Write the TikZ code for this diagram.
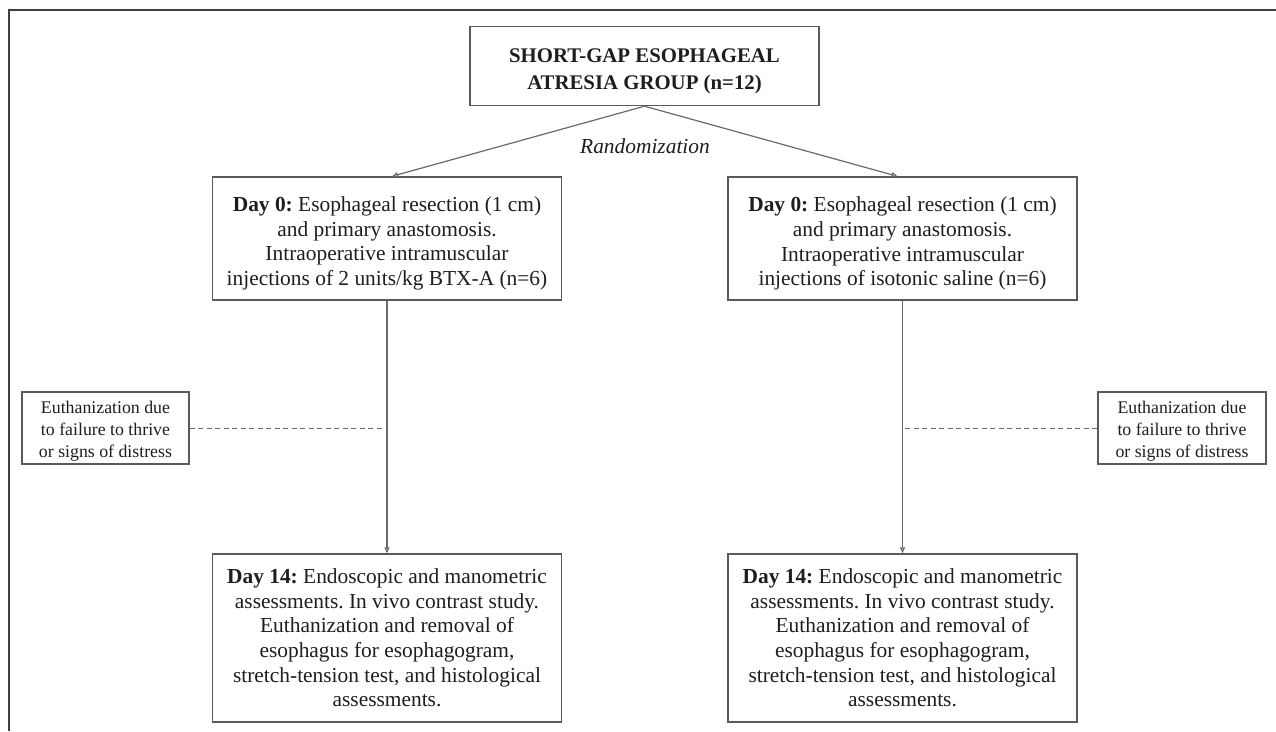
\documentclass[tikz,border=0pt]{standalone}
\usepackage{fontspec}
\setmainfont{Liberation Serif}
\frenchspacing
\usetikzlibrary{arrows.meta}
\definecolor{boxline}{HTML}{5A5A5A}
\definecolor{conn}{HTML}{6A6A6A}
\definecolor{txt}{HTML}{1E1E1E}
\newcommand{\topstrut}[1]{\rule{0pt}{#1}}
\tikzset{
  box/.style={draw=boxline, line width=1.4pt, fill=white, align=center, inner sep=0pt, text=txt},
  mainbox/.style={box, minimum width=349pt, font=\fontsize{21.4}{24.6}\selectfont},
  sidebox/.style={box, minimum width=167pt, minimum height=72pt, font=\fontsize{17.8}{22.4}\selectfont},
  conline/.style={draw=conn, line width=1.2pt},
  arr/.style={conline, -{Triangle[open, length=6pt, width=5pt]}},
  dashline/.style={draw=conn, line width=1pt, dash pattern=on 5pt off 3.5pt}
}
\begin{document}
\begin{tikzpicture}[x=1pt,y=-1pt]
\useasboundingbox (0,0) rectangle (1276,731);
% frame
\draw[draw=black!75, line width=2pt] (9,731) -- (9,10) -- (1276,10);

\node[box, minimum width=349pt, minimum height=79pt, font=\bfseries\fontsize{20.8}{27}\selectfont] (top) at (644.5,66)
  {\topstrut{24pt}SHORT-GAP ESOPHAGEAL\\ATRESIA GROUP (n=12)};

\node[text=txt, font=\itshape\fontsize{21.4}{24}\selectfont] (rand) at (645,146) {Randomization};

\node[mainbox, minimum height=123pt] (d0l) at (387,238.5)
  {\topstrut{25pt}\textbf{Day 0:} Esophageal resection (1 cm)\\and primary anastomosis.\\Intraoperative intramuscular\\injections of 2 units/kg BTX-A (n=6)};
\node[mainbox, minimum height=123pt] (d0r) at (902.5,238.5)
  {\topstrut{25pt}\textbf{Day 0:} Esophageal resection (1 cm)\\and primary anastomosis.\\Intraoperative intramuscular\\injections of isotonic saline (n=6)};

\node[mainbox, minimum height=168pt] (d14l) at (387,638)
  {\textbf{Day 14:} Endoscopic and manometric\\assessments. In vivo contrast study.\\Euthanization and removal of\\esophagus for esophagogram,\\stretch-tension test, and histological\\assessments.};
\node[mainbox, minimum height=168pt] (d14r) at (902.5,638)
  {\textbf{Day 14:} Endoscopic and manometric\\assessments. In vivo contrast study.\\Euthanization and removal of\\esophagus for esophagogram,\\stretch-tension test, and histological\\assessments.};

\node[sidebox] (el) at (105.5,428) {\topstrut{19pt}Euthanization due\\to failure to thrive\\or signs of distress};
\node[sidebox, minimum width=168pt] (er) at (1182,428) {\topstrut{19pt}Euthanization due\\to failure to thrive\\or signs of distress};

% connectors
\draw[arr] (top.south) -- ([xshift=5pt]d0l.north);
\draw[arr] (top.south) -- ([xshift=-5pt]d0r.north);
\draw[arr] (d0l.south) -- (d14l.north);
\draw[arr] (d0r.south) -- (d14r.north);

\coordinate (dl) at (384,428);
\coordinate (dr) at (905,428);
\draw[dashline] (el.east) -- (dl);
\draw[dashline] (dr) -- (er.west);
\end{tikzpicture}
\end{document}
